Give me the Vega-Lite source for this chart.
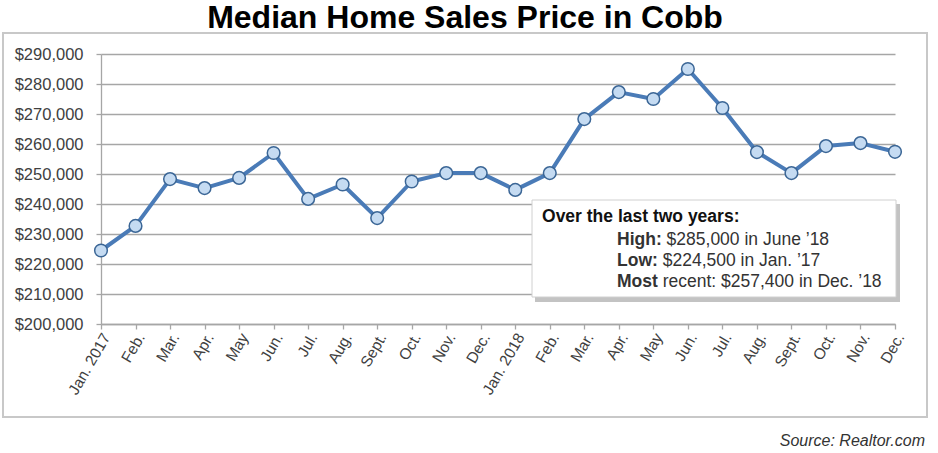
{
  "$schema": "https://vega.github.io/schema/vega-lite/v6.json",
  "width": 794,
  "height": 270,
  "autosize": {"type": "none"},
  "padding": {"left": 101, "top": 54, "right": 43, "bottom": 129},
  "background": "white",
  "title": {
    "text": "Median Home Sales Price in Cobb",
    "font": "Liberation Sans",
    "fontSize": 32,
    "fontWeight": "bold",
    "color": "#000000",
    "anchor": "middle",
    "frame": "group",
    "dx": -33,
    "dy": 33,
    "offset": 5,
    "baseline": "alphabetic"
  },
  "config": {"view": {"stroke": null}},
  "data": {
    "values": [
      {"idx": 0, "month": "Jan. 2017", "price": 224500},
      {"idx": 1, "month": "Feb.", "price": 232700},
      {"idx": 2, "month": "Mar.", "price": 248300},
      {"idx": 3, "month": "Apr.", "price": 245300},
      {"idx": 4, "month": "May", "price": 248700},
      {"idx": 5, "month": "Jun.", "price": 257000},
      {"idx": 6, "month": "Jul.", "price": 241700},
      {"idx": 7, "month": "Aug.", "price": 246500},
      {"idx": 8, "month": "Sept.", "price": 235300},
      {"idx": 9, "month": "Oct.", "price": 247500},
      {"idx": 10, "month": "Nov.", "price": 250300},
      {"idx": 11, "month": "Dec.", "price": 250300},
      {"idx": 12, "month": "Jan. 2018", "price": 244700},
      {"idx": 13, "month": "Feb.", "price": 250300},
      {"idx": 14, "month": "Mar.", "price": 268300},
      {"idx": 15, "month": "Apr.", "price": 277300},
      {"idx": 16, "month": "May", "price": 275000},
      {"idx": 17, "month": "Jun.", "price": 285000},
      {"idx": 18, "month": "Jul.", "price": 272000},
      {"idx": 19, "month": "Aug.", "price": 257300},
      {"idx": 20, "month": "Sept.", "price": 250300},
      {"idx": 21, "month": "Oct.", "price": 259300},
      {"idx": 22, "month": "Nov.", "price": 260300},
      {"idx": 23, "month": "Dec.", "price": 257400}
    ]
  },
  "layer": [
    {
      "mark": {"type": "line", "color": "#4a7bb7", "strokeWidth": 4, "strokeJoin": "round"},
      "encoding": {
        "x": {
          "field": "idx",
          "type": "quantitative",
          "scale": {"domain": [0, 23], "nice": false, "zero": false},
          "axis": {
            "title": null,
            "values": [0,1,2,3,4,5,6,7,8,9,10,11,12,13,14,15,16,17,18,19,20,21,22,23],
            "tickCount": 24,
            "labelExpr": "['Jan. 2017','Feb.','Mar.','Apr.','May','Jun.','Jul.','Aug.','Sept.','Oct.','Nov.','Dec.','Jan. 2018','Feb.','Mar.','Apr.','May','Jun.','Jul.','Aug.','Sept.','Oct.','Nov.','Dec.'][datum.value]",
            "labelAngle": -60,
            "labelFlush": false,
            "labelOverlap": false,
            "labelBound": false,
            "labelOffset": 5,
            "grid": false,
            "domainColor": "#a6a6a6",
            "domainWidth": 1.3,
            "tickColor": "#a6a6a6",
            "tickWidth": 1.3,
            "tickSize": 5,
            "labelPadding": 5,
            "labelFont": "Liberation Sans",
            "labelFontSize": 15.5,
            "labelColor": "#404040"
          }
        },
        "y": {
          "field": "price",
          "type": "quantitative",
          "scale": {"domain": [200000, 290000], "nice": false, "zero": false},
          "axis": {
            "title": null,
            "values": [200000,210000,220000,230000,240000,250000,260000,270000,280000,290000],
            "tickCount": 10,
            "format": "$,.0f",
            "labelOverlap": false,
            "labelFlush": false,
            "grid": true,
            "gridColor": "#a6a6a6",
            "gridWidth": 1.3,
            "domainColor": "#a6a6a6",
            "domainWidth": 1.3,
            "tickColor": "#a6a6a6",
            "tickWidth": 1.3,
            "tickSize": 5,
            "labelPadding": 13,
            "labelFont": "Liberation Sans",
            "labelFontSize": 16.5,
            "labelColor": "#404040"
          }
        }
      }
    },
    {
      "mark": {"type": "circle", "fill": "#c5dbf2", "stroke": "#3b6696", "strokeWidth": 1.5, "size": 160, "opacity": 1, "fillOpacity": 1},
      "encoding": {
        "x": {"field": "idx", "type": "quantitative"},
        "y": {"field": "price", "type": "quantitative"}
      }
    },
    {
      "data": {"values": [{}]},
      "mark": {"type": "rect", "fill": "white", "fillOpacity": 0, "stroke": "#c8c8c8", "strokeWidth": 2},
      "encoding": {
        "x": {"datum": -2.839, "type": "quantitative"},
        "x2": {"datum": 23.927},
        "y": {"datum": 297000, "type": "quantitative"},
        "y2": {"datum": 169000}
      }
    },
    {
      "data": {"values": [{}]},
      "mark": {"type": "rect", "fill": "#7a7a7a", "opacity": 0.45},
      "encoding": {
        "x": {"datum": 12.572, "type": "quantitative"},
        "x2": {"datum": 23.145},
        "y": {"datum": 240000, "type": "quantitative"},
        "y2": {"datum": 207333}
      }
    },
    {
      "data": {"values": [{}]},
      "mark": {"type": "rect", "fill": "white", "stroke": "#d0d0d0", "strokeWidth": 1},
      "encoding": {
        "x": {"datum": 12.485, "type": "quantitative"},
        "x2": {"datum": 23.029},
        "y": {"datum": 241333, "type": "quantitative"},
        "y2": {"datum": 209000}
      }
    },
    {
      "data": {"values": [{}]},
      "mark": {"type": "text", "text": "Over the last two years:", "align": "left", "baseline": "alphabetic", "font": "Liberation Sans", "fontSize": 17.5, "fontWeight": "bold", "color": "#111111"},
      "encoding": {
        "x": {"datum": 12.775, "type": "quantitative"},
        "y": {"datum": 234000, "type": "quantitative"}
      }
    },
    {
      "data": {"values": [{}]},
      "mark": {"type": "text", "text": "High:", "align": "left", "baseline": "alphabetic", "font": "Liberation Sans", "fontSize": 17.5, "fontWeight": "bold", "color": "#333333"},
      "encoding": {
        "x": {"datum": 14.947, "type": "quantitative"},
        "y": {"datum": 226333, "type": "quantitative"}
      }
    },
    {
      "data": {"values": [{}]},
      "mark": {"type": "text", "text": "$285,000 in June ’18", "align": "left", "baseline": "alphabetic", "dx": 49.6, "font": "Liberation Sans", "fontSize": 17.5, "color": "#333333"},
      "encoding": {
        "x": {"datum": 14.947, "type": "quantitative"},
        "y": {"datum": 226333, "type": "quantitative"}
      }
    },
    {
      "data": {"values": [{}]},
      "mark": {"type": "text", "text": "Low:", "align": "left", "baseline": "alphabetic", "font": "Liberation Sans", "fontSize": 17.5, "fontWeight": "bold", "color": "#333333"},
      "encoding": {
        "x": {"datum": 14.947, "type": "quantitative"},
        "y": {"datum": 219333, "type": "quantitative"}
      }
    },
    {
      "data": {"values": [{}]},
      "mark": {"type": "text", "text": "$224,500 in Jan. ’17", "align": "left", "baseline": "alphabetic", "dx": 45.7, "font": "Liberation Sans", "fontSize": 17.5, "color": "#333333"},
      "encoding": {
        "x": {"datum": 14.947, "type": "quantitative"},
        "y": {"datum": 219333, "type": "quantitative"}
      }
    },
    {
      "data": {"values": [{}]},
      "mark": {"type": "text", "text": "Most", "align": "left", "baseline": "alphabetic", "font": "Liberation Sans", "fontSize": 17.5, "fontWeight": "bold", "color": "#333333"},
      "encoding": {
        "x": {"datum": 14.947, "type": "quantitative"},
        "y": {"datum": 212333, "type": "quantitative"}
      }
    },
    {
      "data": {"values": [{}]},
      "mark": {"type": "text", "text": "recent: $257,400 in Dec. ’18", "align": "left", "baseline": "alphabetic", "dx": 45.7, "font": "Liberation Sans", "fontSize": 17.5, "color": "#333333"},
      "encoding": {
        "x": {"datum": 14.947, "type": "quantitative"},
        "y": {"datum": 212333, "type": "quantitative"}
      }
    },
    {
      "data": {"values": [{}]},
      "mark": {"type": "text", "text": "Source: Realtor.com", "align": "right", "baseline": "alphabetic", "font": "Liberation Sans", "fontSize": 16, "fontStyle": "italic", "color": "#333333"},
      "encoding": {
        "x": {"datum": 23.87, "type": "quantitative"},
        "y": {"datum": 159333, "type": "quantitative"}
      }
    }
  ]
}
